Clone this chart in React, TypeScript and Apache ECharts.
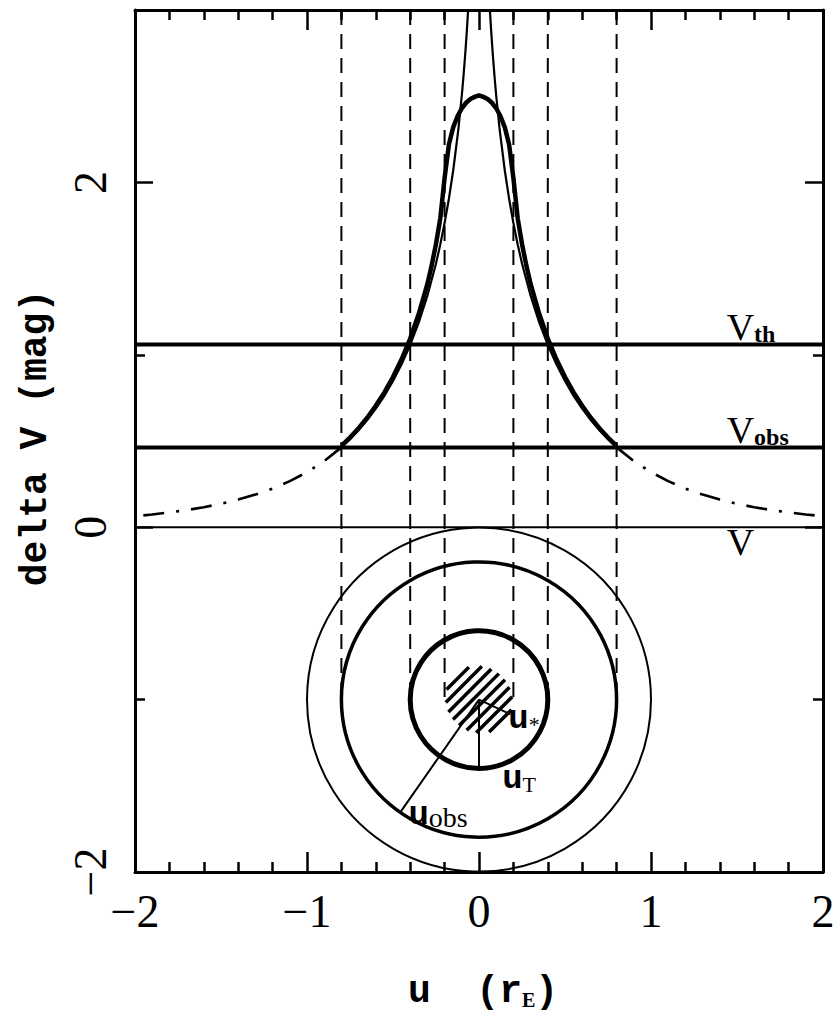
import React, { useEffect, useRef } from "react";
import * as echarts from "echarts";

// Point-source light curve, delta V (mag) against impact parameter u (r_E), u >= 0
const pointU = [0.04, 0.05, 0.06, 0.07, 0.08, 0.09, 0.1, 0.12, 0.15, 0.175, 0.2, 0.225, 0.25, 0.3, 0.35, 0.4, 0.45, 0.5, 0.55, 0.6, 0.65, 0.7, 0.75, 0.8];
const pointDV = [3.496, 3.254, 3.056, 2.889, 2.745, 2.618, 2.504, 2.308, 2.069, 1.905, 1.764, 1.64, 1.53, 1.343, 1.188, 1.057, 0.945, 0.848, 0.762, 0.688, 0.621, 0.563, 0.51, 0.463];

// Point-source wings beyond u_obs (dash-dot)
const wingU = [0.8, 0.9, 1.0, 1.1, 1.2, 1.3, 1.4, 1.5, 1.6, 1.7, 1.8, 1.9, 2.0];
const wingDV = [0.463, 0.384, 0.319, 0.267, 0.224, 0.189, 0.16, 0.136, 0.116, 0.099, 0.086, 0.074, 0.064];

// Finite-source light curve (source radius u* = 0.2)
const finiteU = [0, 0.025, 0.05, 0.075, 0.1, 0.125, 0.15, 0.175, 0.2, 0.225, 0.25, 0.275, 0.3, 0.35, 0.4, 0.45, 0.5, 0.55, 0.6, 0.65, 0.7, 0.75, 0.8];
const finiteDV = [2.505, 2.496, 2.484, 2.462, 2.43, 2.384, 2.319, 2.22, 2.026, 1.792, 1.643, 1.519, 1.411, 1.238, 1.094, 0.974, 0.871, 0.782, 0.704, 0.635, 0.574, 0.52, 0.472];

// Magnitude levels: threshold, observed, baseline
const levelValues = [1.06, 0.463, 0];

// Radii (r_E) of the source, threshold, observed and outer rings
const uStar = 0.2;
const uT = 0.4;
const uObs = 0.8;
const uOuter = 1.0;
const ringRadii = [uOuter, uObs, uT];
const spokeRadii = [uStar, uT, uObs];
const guideU = [-0.8, -0.4, -0.2, 0.2, 0.4, 0.8];
const lensCenter = [0, -1];

// Axis ranges and ticks
const xRange = [-2, 2];
const yRange = [-2, 3];
const yMajorTicks = [-2, 0, 2];
const yMinorTicks = [-1, 1];

const ringWidths = [2, 3.5, 5];
const spokeAngles = [-25, -90, -125];

const mono = "'Liberation Mono', 'DejaVu Sans Mono', monospace";
const serif = "'Liberation Serif', 'DejaVu Serif', serif";

const minus = (v: number) => (v < 0 ? "\u2212" + Math.abs(v) : String(v));

const right = (us: number[], vs: number[]) => us.map((u, i) => [u, vs[i]]);
const left = (us: number[], vs: number[]) => us.map((u, i) => [-u, vs[i]]);
const both = (us: number[], vs: number[]) => [...left(us, vs).reverse(), ...right(us, vs).filter((p) => p[0] !== 0)];

const black = "#000";

function lineSeries(data: number[][], width: number, type: any = "solid") {
  return {
    type: "line",
    data,
    showSymbol: false,
    silent: true,
    clip: true,
    lineStyle: { color: black, width, type, cap: "butt" },
  };
}

function xAxisDef(position: "bottom" | "top") {
  return {
    type: "value",
    position,
    min: xRange[0],
    max: xRange[1],
    interval: 1,
    axisLine: { show: true, onZero: false, lineStyle: { color: black, width: 3 } },
    axisTick: { show: true, inside: true, length: 20, lineStyle: { color: black, width: 2.5 } },
    minorTick: { show: true, splitNumber: 5, length: 10, lineStyle: { color: black, width: 2.5 } },
    splitLine: { show: false },
    axisLabel: {
      show: position === "bottom",
      margin: 16,
      formatter: minus,
      fontFamily: serif,
      fontSize: 46,
      color: black,
    },
  };
}

function yAxisDef(position: "left" | "right", ticks: number[], len: number, withLine: boolean, withLabels: boolean) {
  return {
    type: "value",
    position,
    min: yRange[0],
    max: yRange[1],
    axisLine: { show: withLine, onZero: false, lineStyle: { color: black, width: 3 } },
    axisTick: { show: true, inside: true, length: len, customValues: ticks, lineStyle: { color: black, width: 2.5 } },
    splitLine: { show: false },
    axisLabel: {
      show: withLabels,
      customValues: ticks,
      rotate: 90,
      margin: 22,
      formatter: minus,
      fontFamily: serif,
      fontSize: 46,
      color: black,
    },
  };
}

export default function App() {
  const ref = useRef<HTMLDivElement>(null);

  useEffect(() => {
    document.body.style.margin = "0";
    const chart = echarts.init(ref.current!, null, { renderer: "svg" });

    const option: any = {
      animation: false,
      backgroundColor: "#fff",
      grid: { left: 135, top: 10, width: 688, height: 862, containLabel: false, outerBoundsMode: "none" },
      xAxis: [xAxisDef("bottom"), xAxisDef("top")],
      yAxis: [
        yAxisDef("left", yMajorTicks, 18, true, true),
        yAxisDef("left", yMinorTicks, 10, false, false),
        yAxisDef("right", yMajorTicks, 18, true, false),
        yAxisDef("right", yMinorTicks, 10, false, false),
      ],
      series: [
        // vertical guides from the top down to the ring centre line
        {
          type: "custom",
          silent: true,
          data: guideU.map((u) => [u]),
          renderItem: (_p: any, api: any) => {
            const u = api.value(0);
            const a = api.coord([u, yRange[1]]);
            const b = api.coord([u, lensCenter[1]]);
            return {
              type: "line",
              shape: { x1: a[0], y1: a[1], x2: b[0], y2: b[1] },
              style: { stroke: black, lineWidth: 2, lineDash: [15, 9], fill: null },
            };
          },
        },
        // magnitude levels
        ...levelValues.map((v, i) =>
          lineSeries([[xRange[0], v], [xRange[1], v]], i === 2 ? 2 : 4)
        ),
        // point-source curve
        lineSeries(left(pointU, pointDV), 2.2),
        lineSeries(right(pointU, pointDV), 2.2),
        lineSeries(left(wingU, wingDV), 2.6, [21, 12, 3, 12]),
        lineSeries(right(wingU, wingDV), 2.6, [21, 12, 3, 12]),
        // finite-source curve
        lineSeries(both(finiteU, finiteDV), 4.5),
        // rings around the lens
        {
          type: "custom",
          silent: true,
          data: ringRadii.map((r) => [r]),
          renderItem: (p: any, api: any) => {
            const r = api.value(0);
            const c = api.coord(lensCenter);
            const e = api.coord([lensCenter[0] + r, lensCenter[1]]);
            return {
              type: "circle",
              shape: { cx: c[0], cy: c[1], r: e[0] - c[0] },
              style: { stroke: black, lineWidth: ringWidths[p.dataIndex], fill: null },
            };
          },
        },
        // hatched source disk
        {
          type: "custom",
          silent: true,
          data: [[uStar]],
          renderItem: (_p: any, api: any) => {
            const r = api.value(0);
            const c = api.coord(lensCenter);
            const e = api.coord([lensCenter[0] + r, lensCenter[1]]);
            const rp = e[0] - c[0];
            const s = rp / 4;
            const children: any[] = [];
            const k = Math.SQRT1_2;
            for (let i = -4; i < 4; i++) {
              const d = (i + 0.5) * s;
              const half = Math.sqrt(rp * rp - d * d) * 0.95;
              const mx = c[0] + d * k;
              const my = c[1] + d * k;
              children.push({
                type: "line",
                shape: { x1: mx - half * k, y1: my + half * k, x2: mx + half * k, y2: my - half * k },
                style: { stroke: black, lineWidth: 3.5, fill: null },
              });
            }
            return { type: "group", children };
          },
        },
        // radii drawn from the lens
        {
          type: "custom",
          silent: true,
          data: spokeRadii.map((r) => [r]),
          renderItem: (p: any, api: any) => {
            const r = api.value(0);
            const t = (spokeAngles[p.dataIndex] * Math.PI) / 180;
            const a = api.coord(lensCenter);
            const b = api.coord([lensCenter[0] + r * Math.cos(t), lensCenter[1] + r * Math.sin(t)]);
            return {
              type: "line",
              shape: { x1: a[0], y1: a[1], x2: b[0], y2: b[1] },
              style: { stroke: black, lineWidth: 2, fill: null },
            };
          },
        },
      ],
    };

    chart.setOption(option);

    const px = (p: number[]) => chart.convertToPixel({ xAxisIndex: 0, yAxisIndex: 0 }, p) as number[];

    const text = (p: number[], t: string, extra: any, align: string, vAlign: string, dx = 0, dy = 0, rotation = 0) => ({
      type: "text",
      x: p[0] + dx,
      y: p[1] + dy,
      rotation,
      silent: true,
      style: { text: t, ...extra, align, verticalAlign: vAlign, textAlign: align, textVerticalAlign: vAlign, fill: black },
    });

    const vRich = {
      rich: {
        v: { fontFamily: serif, fontSize: 38, verticalAlign: "bottom", lineHeight: 38, fill: black },
        s: { fontFamily: serif, fontSize: 24, fontWeight: "bold", verticalAlign: "bottom", lineHeight: 30, fill: black },
      },
    };
    const uRich = {
      rich: {
        u: { fontFamily: mono, fontSize: 34, fontWeight: "bold", verticalAlign: "bottom", lineHeight: 34, fill: black },
        s: { fontFamily: serif, fontSize: 22, verticalAlign: "bottom", lineHeight: 26, fill: black },
        o: { fontFamily: serif, fontSize: 28, verticalAlign: "bottom", lineHeight: 34, fill: black },
      },
    };
    const nameRich = {
      rich: {
        a: { fontFamily: mono, fontSize: 38, fontWeight: "bold", verticalAlign: "bottom", lineHeight: 40, fill: black },
        s: { fontFamily: serif, fontSize: 20, fontWeight: "bold", verticalAlign: "bottom", lineHeight: 28, fill: black },
      },
    };
    const yName = { fontFamily: mono, fontSize: 38, fontWeight: "bold" };

    const labelX = 1.44;
    chart.setOption({
      graphic: [
        text(px([labelX, levelValues[0]]), "{v|V}{s|th}", vRich, "left", "bottom", 0, 2),
        text(px([labelX, levelValues[1]]), "{v|V}{s|obs}", vRich, "left", "bottom", 0, 2),
        text(px([labelX, levelValues[2]]), "{v|V}", vRich, "left", "top", 0, -4),
        text(px([0.17, -1.11]), "{u|u}{s|*}", uRich, "left", "middle"),
        text(px([0.135, -1.46]), "{u|u}{s|T}", uRich, "left", "middle"),
        text(px([-0.41, -1.667]), "{u|u}{o|obs}", uRich, "left", "middle"),
        text([35, 438], "delta V (mag)", yName, "center", "middle", 0, 0, Math.PI / 2),
        text([483, 990], "{a|u  (r}{s|E}{a|)}", nameRich, "center", "middle"),
      ],
    });

    return () => chart.dispose();
  }, []);

  return <div ref={ref} style={{ width: 839, height: 1013 }} />;
}
